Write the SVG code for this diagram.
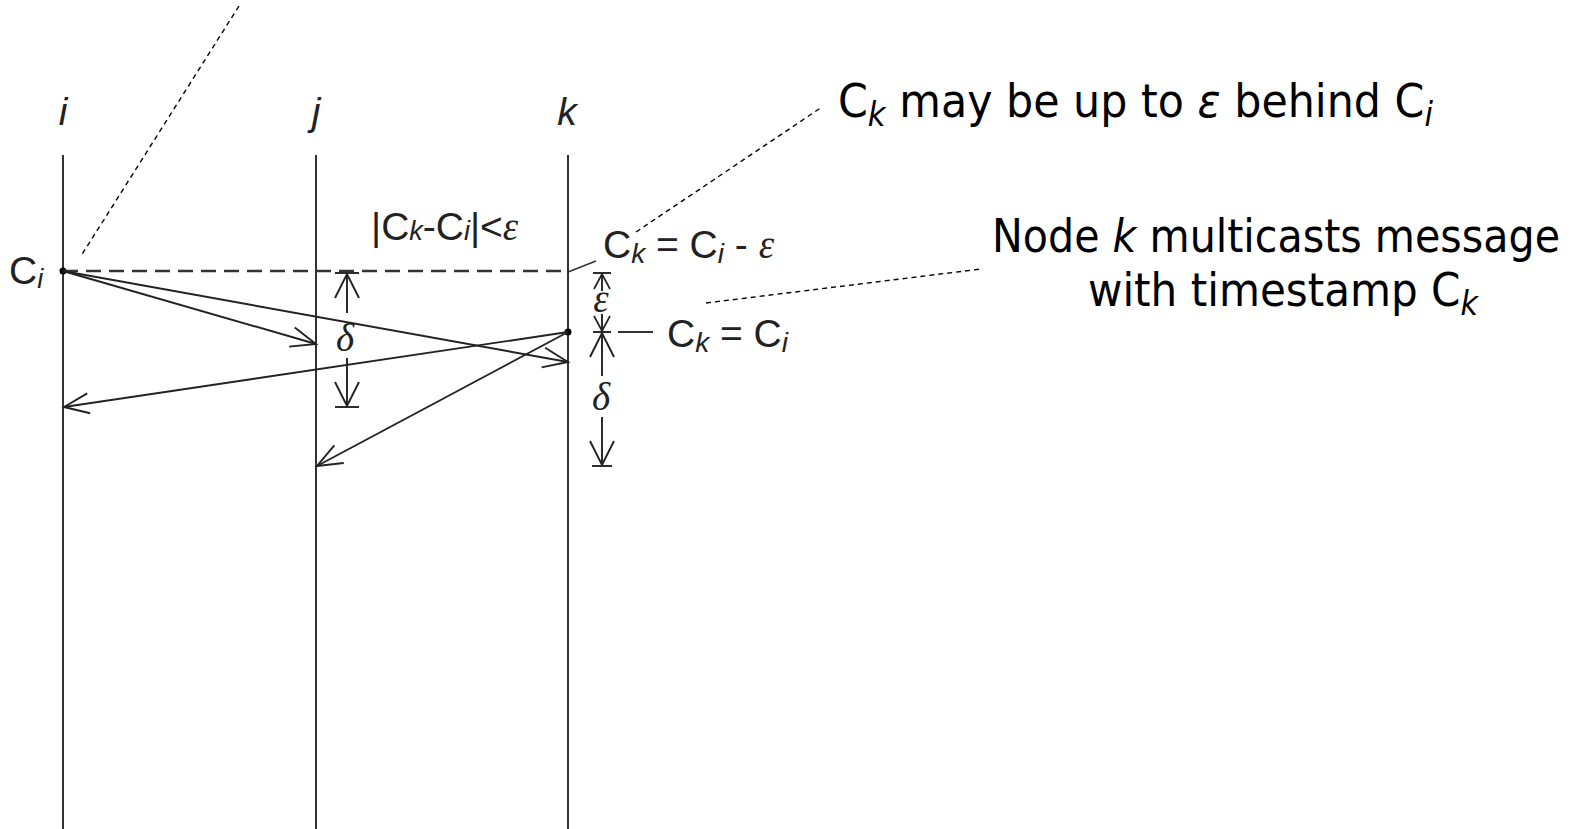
<svg xmlns="http://www.w3.org/2000/svg" width="1573" height="829" viewBox="0 0 1573 829">
<style>
.life{stroke:#333;stroke-width:2;fill:none}
.msg{stroke:#222;stroke-width:1.9;fill:none;marker-end:url(#ah)}
.dim{stroke:#222;stroke-width:1.9;fill:none}
.lead{stroke:#000;stroke-width:1.4;stroke-dasharray:5 4;fill:none}
.t{font-family:"Liberation Sans",Arial,sans-serif;font-size:39px;fill:#222}
.it{font-style:italic}
.gr{font-family:"Liberation Serif","Times New Roman",serif;font-style:italic}
.big{font-family:"DejaVu Sans",Tahoma,sans-serif;font-size:46px;fill:#000}
</style>
<defs>
<marker id="ah" markerUnits="userSpaceOnUse" viewBox="-28 -12 30 24" refX="0" refY="0" markerWidth="30" markerHeight="24" orient="auto" overflow="visible">
<path d="M-25,-10 L0,0 L-25,10" fill="none" stroke="#222" stroke-width="1.9"/>
</marker>
<marker id="dh" markerUnits="userSpaceOnUse" viewBox="-28 -14 30 28" refX="0" refY="0" markerWidth="30" markerHeight="28" orient="auto" overflow="visible">
<path d="M-24,-12 L0,0 L-24,12" fill="none" stroke="#222" stroke-width="1.9"/>
</marker>
<marker id="ds" markerUnits="userSpaceOnUse" viewBox="-18 -10 20 20" refX="0" refY="0" markerWidth="20" markerHeight="20" orient="auto" overflow="visible">
<path d="M-15,-8 L0,0 L-15,8" fill="none" stroke="#222" stroke-width="1.7"/>
</marker>
</defs>

<g id="node-i">
<line class="life" x1="63" y1="155" x2="63" y2="829"/>
<text class="t it" x="63" y="125" text-anchor="middle">i</text>
<circle cx="63" cy="271" r="3.5" fill="#000"/>
<text class="t" x="9" y="284">C<tspan class="it" font-size="27" dy="4">i</tspan></text>
</g>
<g id="node-j">
<line class="life" x1="316" y1="155" x2="316" y2="829"/>
<text class="t it" x="316" y="125" text-anchor="middle">j</text>
</g>
<g id="node-k">
<line class="life" x1="568" y1="155" x2="568" y2="829"/>
<text class="t it" x="567" y="125" text-anchor="middle">k</text>
<circle cx="568" cy="332" r="3.5" fill="#000"/>
</g>

<g id="label-diff">
<text class="t" x="371" y="240">|C<tspan class="it" font-size="27">k</tspan>-C<tspan class="it" font-size="27">i</tspan>|&lt;<tspan class="gr">ε</tspan></text>
</g>
<g id="label-ck-eps">
<text class="t" x="603" y="258">C<tspan class="it" font-size="28" dy="5">k</tspan><tspan dy="-5"> = C</tspan><tspan class="it" font-size="28" dy="5">i</tspan><tspan dy="-5"> - </tspan><tspan class="gr">ε</tspan></text>
</g>
<g id="label-ck-eq">
<text class="t" x="667" y="347">C<tspan class="it" font-size="28" dy="5">k</tspan><tspan dy="-5"> = C</tspan><tspan class="it" font-size="28" dy="5">i</tspan></text>
</g>

<g id="dim-j">
<line class="dim" x1="335" y1="273" x2="359" y2="273"/>
<line class="dim" x1="347" y1="313" x2="347" y2="274" marker-end="url(#dh)"/>
<text class="t gr" x="345" y="351" text-anchor="middle" font-size="40">δ</text>
<line class="dim" x1="347" y1="358" x2="347" y2="406" marker-end="url(#dh)"/>
<line class="dim" x1="335" y1="407" x2="359" y2="407"/>
</g>
<g id="dim-k">
<line class="dim" x1="593" y1="273" x2="611" y2="273"/>
<line class="dim" x1="602" y1="291" x2="602" y2="274" marker-end="url(#ds)"/>
<text class="t gr" x="601" y="312" text-anchor="middle" font-size="36">ε</text>
<line class="dim" x1="602" y1="314" x2="602" y2="331" marker-end="url(#ds)"/>
<line class="dim" x1="593" y1="332" x2="611" y2="332"/>
<line class="dim" x1="602" y1="376" x2="602" y2="333" marker-end="url(#dh)"/>
<text class="t gr" x="601" y="410" text-anchor="middle" font-size="42">δ</text>
<line class="dim" x1="602" y1="417" x2="602" y2="465" marker-end="url(#dh)"/>
<line class="dim" x1="592" y1="466" x2="612" y2="466"/>
</g>

<g id="note-behind">
<text class="big" x="838" y="117" textLength="595" lengthAdjust="spacingAndGlyphs">C<tspan class="it" font-size="33" dy="9">k</tspan><tspan dy="-9"> may be up to </tspan><tspan class="it">ε</tspan> behind C<tspan class="it" font-size="33" dy="9">i</tspan></text>
</g>
<g id="note-multicast">
<text class="big" x="1276" y="252" text-anchor="middle" textLength="568" lengthAdjust="spacingAndGlyphs">Node <tspan class="it">k</tspan> multicasts message</text>
<text class="big" x="1283" y="306" text-anchor="middle" textLength="390" lengthAdjust="spacingAndGlyphs">with timestamp C<tspan class="it" font-size="33" dy="9">k</tspan></text>
</g>

<g id="connectors">
<line x1="63" y1="271" x2="568" y2="271" stroke="#333" stroke-width="2.4" stroke-dasharray="15 8"/>
<line class="msg" x1="63" y1="271" x2="316" y2="344"/>
<line class="msg" x1="63" y1="271" x2="568" y2="362"/>
<line class="msg" x1="568" y1="332" x2="64" y2="407"/>
<line class="msg" x1="568" y1="332" x2="317" y2="466"/>
<line x1="568" y1="272" x2="596" y2="261" stroke="#333" stroke-width="1.6"/>
<line x1="618" y1="332" x2="653" y2="332" stroke="#333" stroke-width="1.8"/>
<line class="lead" x1="239" y1="6" x2="81" y2="256"/>
<line class="lead" x1="636" y1="232" x2="822" y2="107"/>
<line class="lead" x1="706" y1="303" x2="981" y2="269"/>
</g>
</svg>
